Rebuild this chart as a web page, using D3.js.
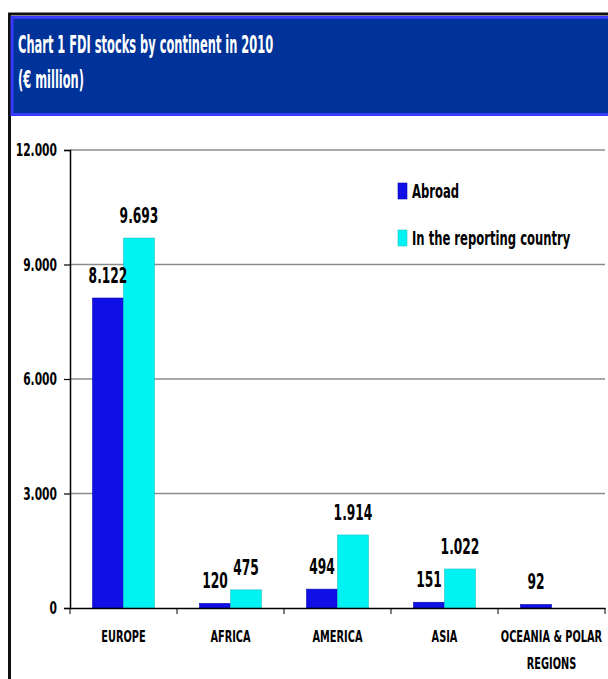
<!DOCTYPE html>
<html>
<head>
<meta charset="utf-8">
<script src="https://cdn.jsdelivr.net/npm/d3@7"></script>
<style>
  html, body { margin: 0; padding: 0; background: #fff; }
  svg { display: block; }
  text { font-family: "DejaVu Sans Condensed", "DejaVu Sans", sans-serif; font-weight: bold; }
</style>
</head>
<body>
<svg id="chart" width="608" height="679"></svg>
<script>
// FDI stocks by continent, 2010 (€ million)
const categories = ["EUROPE", "AFRICA", "AMERICA", "ASIA", "OCEANIA & POLAR|REGIONS"];
const series = ["Abroad", "In the reporting country"];
const abroad = [8122, 120, 494, 151, 92];
const reporting = [9693, 475, 1914, 1022, null];
const yTicks = [0, 3000, 6000, 9000, 12000];
const titleLines = ["Chart 1 FDI stocks by continent in 2010", "(€ million)"];
const colors = ["#1010e6", "#00f2f2"];

const svg = d3.select("#chart");
const W = 608, H = 679;

// draw text squeezed horizontally around its anchor point
function label(parent, x, y, str, size, anchor, sx, fill) {
  const g = parent.append("g").attr("transform", `translate(${x},${y}) scale(${sx},1)`);
  return g.append("text")
    .attr("text-anchor", anchor || "start")
    .attr("font-size", size)
    .attr("fill", fill || "#000")
    .text(str);
}

// outer frame
svg.append("rect").attr("x", 9.5).attr("y", 14).attr("width", W + 10).attr("height", H + 10)
  .attr("fill", "#fff").attr("stroke", "#111").attr("stroke-width", 3);

// title banner
svg.append("rect").attr("x", 12).attr("y", 17.5).attr("width", W).attr("height", 97)
  .attr("fill", "#003399").attr("stroke", "#3a3aff").attr("stroke-width", 3);
titleLines.forEach((t, i) => label(svg, 18, 53 + i * 35, t, 24, "start", 0.53, "#fff"));

// scales
const margin = { left: 70, right: 605, top: 150, bottom: 608 };
const x = d3.scaleBand().domain(categories).range([margin.left, margin.right]).padding(0);
const groupW = 62;
const xs = d3.scaleBand().domain(series).range([0, groupW]).padding(0);
const y = d3.scaleLinear().domain([0, 12000]).range([margin.bottom, margin.top]);

// gridlines
svg.append("g").selectAll("line").data(yTicks.filter(d => d > 0)).join("line")
  .attr("x1", margin.left).attr("x2", margin.right)
  .attr("y1", d => y(d)).attr("y2", d => y(d))
  .attr("stroke", "#8c8c8c").attr("stroke-width", 1.5);

// y axis
const yAxis = svg.append("g").attr("transform", `translate(${margin.left},0)`)
  .call(d3.axisLeft(y).tickValues(yTicks).tickSize(6).tickFormat(() => ""));
yAxis.select(".domain").attr("stroke", "#000").attr("stroke-width", 1.5);
yAxis.selectAll(".tick line").attr("stroke", "#000").attr("stroke-width", 1.2);
const fmt = d => d3.format(",")(d).replace(/,/g, ".");
yTicks.forEach(t => label(svg, 57, y(t) + 6, fmt(t), 18, "end", 0.66));

// bars
const rows = categories.map((c, i) => ({ cat: c, vals: [abroad[i], reporting[i]] }));
const groups = svg.append("g").selectAll("g").data(rows).join("g")
  .attr("transform", d => `translate(${x(d.cat) + (x.bandwidth() - groupW) / 2},0)`);
groups.selectAll("rect")
  .data(d => d.vals.map((v, j) => ({ s: series[j], v, j })).filter(d => d.v != null))
  .join("rect")
  .attr("x", d => xs(d.s)).attr("width", xs.bandwidth())
  .attr("y", d => y(d.v)).attr("height", d => y(0) - y(d.v))
  .attr("fill", d => colors[d.j])
  .attr("stroke", d => d.j ? "#20c4c4" : "#0808b0").attr("stroke-width", 0.6);

// value labels
groups.each(function (d) {
  const g = d3.select(this);
  d.vals.forEach((v, j) => {
    if (v == null) return;
    label(g, xs(series[j]) + xs.bandwidth() / 2, y(v) - 15, fmt(v), 22, "middle", 0.62);
  });
});

// x axis
const xAxis = svg.append("g").attr("transform", `translate(0,${margin.bottom})`)
  .call(d3.axisBottom(x).tickSize(0).tickFormat(() => ""));
xAxis.select(".domain").attr("stroke", "#000").attr("stroke-width", 1.5);
xAxis.selectAll(".tick").remove();
const bounds = [margin.left].concat(categories.map(c => x(c) + x.bandwidth()));
svg.append("g").selectAll("line").data(bounds).join("line")
  .attr("x1", d => d).attr("x2", d => d)
  .attr("y1", margin.bottom).attr("y2", margin.bottom + 6)
  .attr("stroke", "#000").attr("stroke-width", 1);

categories.forEach(c => {
  c.split("|").forEach((part, k) => {
    label(svg, x(c) + x.bandwidth() / 2, 642 + k * 27, part, 16, "middle", 0.68);
  });
});

// legend
series.forEach((s, i) => {
  const ly = 191 + i * 47;
  svg.append("rect").attr("x", 398).attr("y", ly - 8).attr("width", 9).attr("height", 16)
    .attr("fill", colors[i]).attr("stroke", i ? "#20c4c4" : "#0808b0").attr("stroke-width", 0.6);
  label(svg, 412, ly + 7, s, 19, "start", 0.68);
});
</script>
</body>
</html>
